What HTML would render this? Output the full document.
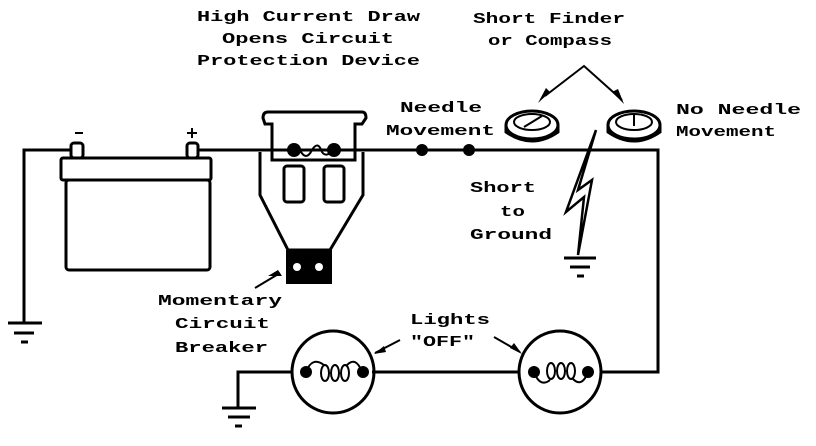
<!DOCTYPE html>
<html><head><style>html,body{margin:0;padding:0;background:#fff}svg{display:block}</style></head>
<body>
<svg width="816" height="446" viewBox="0 0 816 446" xmlns="http://www.w3.org/2000/svg">
<g font-family="Liberation Mono, monospace" font-weight="bold" font-size="15" fill="#000">
<text x="197" y="21" textLength="223" lengthAdjust="spacingAndGlyphs">High Current Draw</text>
<text x="222" y="43" textLength="172" lengthAdjust="spacingAndGlyphs">Opens Circuit</text>
<text x="197" y="65" textLength="223" lengthAdjust="spacingAndGlyphs">Protection Device</text>
<text x="473" y="23" textLength="152" lengthAdjust="spacingAndGlyphs">Short Finder</text>
<text x="488" y="45" textLength="124" lengthAdjust="spacingAndGlyphs">or Compass</text>
<text x="400" y="112" textLength="82" lengthAdjust="spacingAndGlyphs">Needle</text>
<text x="386" y="135" textLength="109" lengthAdjust="spacingAndGlyphs">Movement</text>
<text x="676" y="114" textLength="125" lengthAdjust="spacingAndGlyphs">No Needle</text>
<text x="676" y="136" textLength="100" lengthAdjust="spacingAndGlyphs">Movement</text>
<text x="470" y="192" textLength="66" lengthAdjust="spacingAndGlyphs">Short</text>
<text x="500" y="216" textLength="25" lengthAdjust="spacingAndGlyphs">to</text>
<text x="470" y="239" textLength="82" lengthAdjust="spacingAndGlyphs">Ground</text>
<text x="158" y="305" textLength="124" lengthAdjust="spacingAndGlyphs">Momentary</text>
<text x="175" y="328" textLength="95" lengthAdjust="spacingAndGlyphs">Circuit</text>
<text x="175" y="352" textLength="93" lengthAdjust="spacingAndGlyphs">Breaker</text>
<text x="410" y="324" textLength="80" lengthAdjust="spacingAndGlyphs">Lights</text>
<text x="410" y="346" textLength="65" lengthAdjust="spacingAndGlyphs">"OFF"</text>
</g>
<g stroke="#000" stroke-width="3" fill="none">
<polyline points="24,323 24,150 72,150"/>
<polyline points="198,150 658,150 658,372 600,372"/>
<line x1="372" y1="372" x2="518" y2="372"/>
<polyline points="292,372 238,372 238,408"/>
<line x1="8" y1="323" x2="42" y2="323"/><line x1="14" y1="333" x2="34" y2="333"/><line x1="21" y1="342" x2="28" y2="342"/>
<line x1="222" y1="408" x2="256" y2="408"/><line x1="228" y1="417" x2="250" y2="417"/><line x1="235" y1="426" x2="242" y2="426"/>
<line x1="564" y1="258" x2="596" y2="258"/><line x1="570" y1="267" x2="590" y2="267"/><line x1="577" y1="276" x2="584" y2="276"/>
<rect x="61" y="158" width="150" height="22" rx="2"/>
<rect x="66" y="180" width="144" height="90" rx="3"/>
<rect x="71" y="143" width="12" height="15" rx="3"/>
<rect x="187" y="143" width="11" height="15" rx="3"/>
<path d="M268,112 L362,112 Q366,112 366,118 L362,124 L355,124 L355,160 L272,160 L272,124 L265,124 L263,118 Q263,112 268,112 Z"/>
<path d="M260,152 L260,195 L288,250 L330,250 L363,195 L363,152"/>
<rect x="284" y="166" width="20" height="36" rx="3"/>
<rect x="324" y="166" width="20" height="36" rx="3"/>
<path d="M300,150 Q306,162 312,150 Q318,140 322,152 Q326,158 334,150" stroke-width="2"/>
<ellipse cx="532" cy="125" rx="26" ry="14"/>
<path d="M506,125 L506,132 Q532,150 558,132 L558,125"/>
<ellipse cx="532" cy="122" rx="18" ry="8" stroke-width="2"/>
<line x1="524" y1="127" x2="542" y2="116" stroke-width="2"/>
<ellipse cx="634" cy="125" rx="26" ry="14"/>
<path d="M608,125 L608,132 Q634,150 660,132 L660,125"/>
<ellipse cx="634" cy="122" rx="18" ry="8" stroke-width="2"/>
<line x1="634" y1="114" x2="634" y2="126" stroke-width="2"/>
<polyline points="545,96 584,66 622,100" stroke-width="2"/>
<path d="M596,130 L566,212 L584,197 L578,255 L592,180 L578,190 Z" stroke-width="2.5"/>
<circle cx="333" cy="372" r="41"/>
<circle cx="560" cy="372" r="41"/>
<path d="M306,372 Q312,356 324,365" stroke-width="2"/>
<ellipse cx="325" cy="373" rx="4" ry="8" stroke-width="2"/>
<ellipse cx="335" cy="373" rx="4" ry="8" stroke-width="2"/>
<ellipse cx="345" cy="373" rx="4" ry="8" stroke-width="2"/>
<path d="M347,365 Q356,356 362,372" stroke-width="2"/>
<path d="M534,372 Q540,388 550,380" stroke-width="2"/>
<ellipse cx="551" cy="371" rx="4" ry="8" stroke-width="2"/>
<ellipse cx="561" cy="371" rx="4" ry="8" stroke-width="2"/>
<ellipse cx="571" cy="371" rx="4" ry="8" stroke-width="2"/>
<path d="M573,379 Q582,388 588,372" stroke-width="2"/>
<line x1="255" y1="288" x2="280" y2="273" stroke-width="2"/>
<line x1="375" y1="353" x2="400" y2="340" stroke-width="2"/>
<line x1="494" y1="337" x2="520" y2="352" stroke-width="2"/>
</g>
<g fill="#000">
<rect x="286" y="250" width="46" height="34"/>
<circle cx="297" cy="267" r="4" fill="#fff"/><circle cx="319" cy="267" r="4" fill="#fff"/>
<circle cx="294" cy="150" r="7"/><circle cx="334" cy="150" r="7"/>
<circle cx="422" cy="150" r="6"/><circle cx="469" cy="150" r="6"/>
<circle cx="306" cy="372" r="6"/><circle cx="363" cy="372" r="6"/>
<circle cx="534" cy="372" r="6"/><circle cx="588" cy="372" r="6"/>
<polygon points="538,103 550,92 546,88"/>
<polygon points="624,104 612,92 618,89"/>
<polygon points="278,270 268,276 282,276"/>
<polygon points="374,354 384,346 386,352"/>
<polygon points="522,354 510,348 514,343"/>
<rect x="75" y="132" width="8" height="2"/>
<rect x="187" y="132" width="10" height="2"/><rect x="191" y="128" width="2" height="10"/>
</g>
</svg>
</body></html>
